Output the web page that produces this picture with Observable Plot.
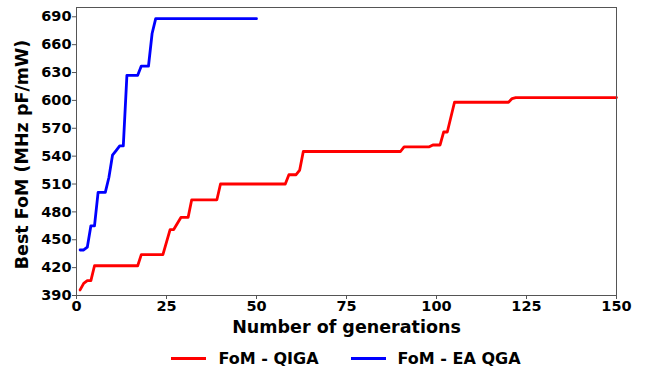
<!DOCTYPE html>
<html><head><meta charset="utf-8">
<script src="https://cdn.jsdelivr.net/npm/d3@7"></script>
<script src="https://cdn.jsdelivr.net/npm/@observablehq/plot@0.6"></script>
<style>
body{margin:0;background:#fff;font-family:"DejaVu Sans",sans-serif;}
#wrap{width:649px;height:368px;position:relative;overflow:hidden;}
#legend{display:flex;justify-content:center;align-items:center;padding-left:43px;box-sizing:border-box;width:649px;height:28px;margin-top:2px;font-weight:bold;font-size:16px;color:#000;}
.item{display:flex;align-items:center;margin:0 16px;}
.swatch{width:35px;height:3px;margin-right:12px;}
</style></head><body><div id="wrap"><div id="chart"></div><div id="legend"></div></div>
<script>
// QIGA series (red)
const qigaGen = [1,2,3,4,5,17,18,24,26,27,29,31,32,39,40,58,59,61,62,63,90,91,98,99,101,102,103,105,120,121,122,150];
const qigaFoM = [396,403,406,406,422,422,434,434,461,461,474,474,493,493,510,510,520,520,525,545,545,550,550,552,552,566,566,598,598,602,603,603];
// EA QGA series (blue)
const eaGen = [1,2,3,4,5,6,8,9,10,11,12,13,14,17,18,20,21,22,50];
const eaFoM = [439,439,442,465,465,501,501,517,541,546,551,551,627,627,637,637,672,688,688];
const xTicks = [0,25,50,75,100,125,150];
const yTicks = [390,420,450,480,510,540,570,600,630,660,690];
const seriesNames = ["FoM - QIGA","FoM - EA QGA"];
const seriesColors = ["#ff0000","#0000ff"];

const qiga = qigaGen.map((g,i)=>({gen:g, fom:qigaFoM[i]}));
const ea = eaGen.map((g,i)=>({gen:g, fom:eaFoM[i]}));

const chart = Plot.plot({
  width: 649,
  height: 342,
  marginTop: 7,
  marginBottom: 47,
  marginLeft: 76,
  marginRight: 33,
  style: {fontFamily: "DejaVu Sans", color: "#000", background: "#fff"},
  x: {domain: [0,150]},
  y: {domain: [390,700]},
  marks: [
    Plot.line(qiga, {x:"gen", y:"fom", stroke: seriesColors[0], strokeWidth: 2.8}),
    Plot.line(ea, {x:"gen", y:"fom", stroke: seriesColors[1], strokeWidth: 2.8}),
    Plot.frame({stroke:"#555", strokeWidth:1}),
    Plot.axisX({ticks: xTicks, tickSize: 4, tickPadding: 1, label: null, fontSize: 14.5, fontWeight: "bold", stroke: "#555"}),
    Plot.axisY({ticks: yTicks, tickSize: 4, tickPadding: 1, label: null, fontSize: 14.5, fontWeight: "bold", stroke: "#555"}),
    Plot.text(["Number of generations"], {frameAnchor: "bottom", dy: 37, fontSize: 17.5, fontWeight: "bold", fill: "#000"}),
    Plot.text(["Best FoM (MHz pF/mW)"], {frameAnchor: "left", textAnchor: "middle", dx: -54, dy: 3, rotate: -90, fontSize: 17.5, fontWeight: "bold", fill: "#000"})
  ]
});
document.getElementById("chart").appendChild(chart);

const legend = document.getElementById("legend");
seriesNames.forEach((n,i)=>{
  const it = document.createElement("div"); it.className="item";
  const sw = document.createElement("div"); sw.className="swatch"; sw.style.background = seriesColors[i];
  const tx = document.createElement("span"); tx.textContent = n;
  it.appendChild(sw); it.appendChild(tx); legend.appendChild(it);
});
</script></body></html>
